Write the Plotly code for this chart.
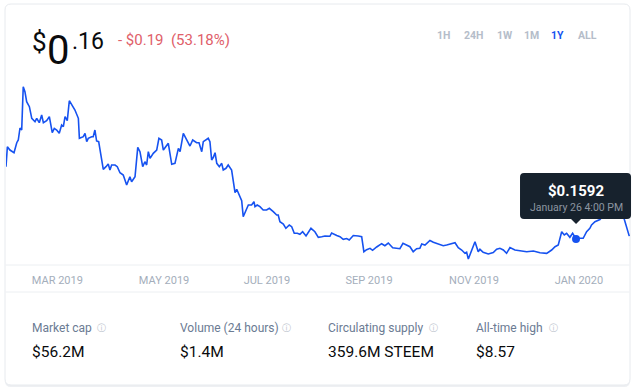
import pandas as pd
import plotly.graph_objects as go

# ---------------- data ----------------
START = pd.Timestamp("2019-02-26 16:00")

day_offset = [
    0, 0.8, 2.3, 4.7, 6.3, 7.2, 8.2, 9.2, 10.1, 11.1,
    12.1, 13.7, 15.1, 17.0, 18.0, 19.5, 20.9, 21.9, 23.8, 25.4,
    27.1, 28.3, 29.7, 31.2, 32.6, 33.6, 34.6, 35.9, 37.1, 39.1,
    40.4, 42.4, 43.0, 45.3, 46.3, 47.3, 48.2, 50.2, 51.1, 52.1,
    53.1, 54.3, 57.0, 58.6, 59.9, 60.9, 61.9, 63.9, 65.2, 66.8,
    68.7, 70.7, 72.6, 73.6, 75.6, 77.2, 78.5, 80.1, 81.4, 82.4,
    83.4, 84.4, 86.3, 88.3, 89.6, 91.2, 92.2, 93.6, 95.1, 97.1,
    99.0, 101.0, 102.0, 103.9, 105.9, 107.8, 109.4, 111.7, 113.1, 114.7,
    115.6, 117.6, 118.5, 119.5, 120.5, 121.5, 122.5, 123.5, 125.0, 126.4,
    127.3, 128.9, 130.2, 132.2, 134.2, 135.2, 136.7, 138.1, 139.0, 140.6,
    142.0, 143.9, 145.3, 145.9, 147.2, 148.8, 150.7, 152.7, 154.3, 156.6,
    158.6, 159.5, 160.5, 162.5, 164.0, 166.0, 167.4, 168.9, 170.7, 172.2,
    173.8, 175.8, 178.7, 181.0, 183.0, 185.0, 186.9, 189.8, 190.8, 193.8,
    195.7, 197.6, 199.6, 201.1, 203.5, 206.4, 208.4, 209.7, 211.3, 213.3,
    214.8, 217.2, 220.1, 222.0, 224.0, 226.6, 229.8, 230.8, 232.6, 234.8,
    236.7, 238.6, 240.6, 242.5, 243.6, 245.5, 248.4, 250.4, 253.3, 256.2,
    258.2, 261.1, 263.1, 265.0, 267.0, 268.9, 269.9, 270.9, 272.8, 274.8,
    276.7, 277.7, 279.6, 282.6, 285.5, 287.5, 289.4, 291.4, 293.3, 295.3,
    298.2, 301.1, 305.1, 309.0, 312.9, 316.8, 319.7, 321.7, 323.6, 325.6,
    327.1, 328.5, 330.4, 332.0, 334.0, 336.3, 338.2, 340.2, 342.1, 343.1,
    345.1, 348.0, 350.9, 353.9, 356.2, 358.6, 360.9, 362.1, 363.6, 365.2,
]

price_usd = [
    0.3571, 0.4118, 0.4027, 0.3954, 0.4227, 0.4301, 0.4630, 0.4575, 0.5760, 0.5623,
    0.5349, 0.5213, 0.4895, 0.4802, 0.4895, 0.4775, 0.4985, 0.4775, 0.4829, 0.4939,
    0.4501, 0.4621, 0.4575, 0.4485, 0.4712, 0.4665, 0.4939, 0.4829, 0.5377, 0.5232,
    0.5122, 0.4895, 0.4348, 0.4392, 0.4485, 0.4255, 0.4348, 0.4392, 0.4392, 0.4575,
    0.4274, 0.4255, 0.3499, 0.3571, 0.3644, 0.3480, 0.3617, 0.3617, 0.3571, 0.3406,
    0.3343, 0.3070, 0.3297, 0.3160, 0.3297, 0.4101, 0.3981, 0.3571, 0.3707, 0.3617,
    0.3981, 0.3800, 0.3937, 0.4027, 0.4348, 0.4301, 0.4027, 0.4118, 0.4211, 0.3636,
    0.3663, 0.4074, 0.3981, 0.4485, 0.4301, 0.4137, 0.4301, 0.4227, 0.4227, 0.3981,
    0.4255, 0.4320, 0.4348, 0.4255, 0.3754, 0.3828, 0.3954, 0.3663, 0.3571, 0.3663,
    0.3480, 0.3527, 0.3617, 0.3480, 0.2859, 0.2952, 0.2796, 0.2640, 0.2202, 0.2405,
    0.2522, 0.2522, 0.2612, 0.2476, 0.2522, 0.2476, 0.2385, 0.2385, 0.2432, 0.2339,
    0.2248, 0.2248, 0.2065, 0.2002, 0.1884, 0.1975, 0.1928, 0.1747, 0.1747, 0.1720,
    0.1791, 0.1674, 0.1884, 0.1791, 0.1638, 0.1655, 0.1674, 0.1666, 0.1756, 0.1687,
    0.1655, 0.1583, 0.1605, 0.1564, 0.1687, 0.1674, 0.1655, 0.1244, 0.1299, 0.1337,
    0.1282, 0.1373, 0.1463, 0.1408, 0.1482, 0.1353, 0.1345, 0.1326, 0.1474, 0.1414,
    0.1381, 0.1244, 0.1326, 0.1337, 0.1455, 0.1427, 0.1551, 0.1501, 0.1455, 0.1408,
    0.1427, 0.1474, 0.1490, 0.1353, 0.1290, 0.1200, 0.1228, 0.1044, 0.1290, 0.1518,
    0.1244, 0.1310, 0.1228, 0.1181, 0.1222, 0.1310, 0.1337, 0.1290, 0.1200, 0.1359,
    0.1290, 0.1263, 0.1244, 0.1263, 0.1217, 0.1200, 0.1290, 0.1381, 0.1427, 0.1791,
    0.1701, 0.1748, 0.1638, 0.1748, 0.1592, 0.1611, 0.1611, 0.1791, 0.1884, 0.1975,
    0.2065, 0.2125, 0.2303, 0.2413, 0.2303, 0.2467, 0.2331, 0.2158, 0.1928, 0.1670,
]

HOVER_INDEX = 194
hover_date_text = "January 26 4:00 PM"

tick_offset = [30.1, 92.6, 152.9, 212.7, 274.2, 335.7]
tick_labels = ["MAR 2019", "MAY 2019", "JUL 2019", "SEP 2019", "NOV 2019", "JAN 2020"]

range_buttons = ["1H", "24H", "1W", "1M", "1Y", "ALL"]
active_range = "1Y"

price_whole = "0"
price_frac = ".16"
change_text = "- $0.19  (53.18%)"

stat_labels = ["Market cap", "Volume (24 hours)", "Circulating supply", "All-time high"]
stat_values = ["$56.2M", "$1.4M", "359.6M STEEM", "$8.57"]

# ---------------- styling / layout helpers ----------------
BLUE = "#1652f0"
INK = "#0a0b0d"
FONT = "Roboto, Inter, sans-serif"

W, H = 640, 392
L, R, T, B = 6, 632, 80, 262
Y_MIN, Y_MAX = 0.0962, 0.5944
X_SPAN_DAYS = 366.8


def PX(X):
    return (X - L) / (R - L)


def PY(Y):
    return (B - Y) / (B - T)


def rounded(x0, y0, x1, y1, r, ax, ay, pointer_x=None):
    def p(x, y):
        return f"{x - ax:.1f},{ay - y:.1f}"
    d = (f"M{p(x0 + r, y0)} L{p(x1 - r, y0)} Q{p(x1, y0)} {p(x1, y0 + r)} "
         f"L{p(x1, y1 - r)} Q{p(x1, y1)} {p(x1 - r, y1)} ")
    if pointer_x is not None:
        d += f"L{p(pointer_x + 5, y1)} L{p(pointer_x, y1 + 5)} L{p(pointer_x - 5, y1)} "
    d += (f"L{p(x0 + r, y1)} Q{p(x0, y1)} {p(x0, y1 - r)} "
          f"L{p(x0, y0 + r)} Q{p(x0, y0)} {p(x0 + r, y0)} Z")
    return d


dates = START + pd.to_timedelta(day_offset, unit="D")
tick_dates = START + pd.to_timedelta(tick_offset, unit="D")
hover_x = dates[HOVER_INDEX]
hover_y = price_usd[HOVER_INDEX]
hover_x_str = hover_x.strftime("%Y-%m-%d %H:%M:%S")

fig = go.Figure()
fig.add_trace(go.Scatter(
    x=dates, y=price_usd, mode="lines",
    line=dict(color=BLUE, width=1.6), hoverinfo="skip", showlegend=False,
))
fig.add_trace(go.Scatter(
    x=[hover_x], y=[hover_y], mode="markers",
    marker=dict(color=BLUE, size=8), hoverinfo="skip", showlegend=False,
))

shapes = []
# card shadow + card
shapes.append(dict(type="path", xref="paper", yref="paper", xsizemode="pixel",
                   ysizemode="pixel", xanchor=0, yanchor=0,
                   path=rounded(5, 5, 630, 387, 6, L, B),
                   line=dict(width=0), fillcolor="#eef0f3", layer="below"))
shapes.append(dict(type="path", xref="paper", yref="paper", xsizemode="pixel",
                   ysizemode="pixel", xanchor=0, yanchor=0,
                   path=rounded(5, 4, 630, 385, 6, L, B),
                   line=dict(color="#e7eaee", width=1), fillcolor="white", layer="below"))
for yy in (265, 292):
    shapes.append(dict(type="line", xref="paper", yref="paper",
                       x0=PX(5.5), x1=PX(629.5), y0=PY(yy), y1=PY(yy),
                       line=dict(color="#eceff2", width=1), layer="below"))
# tooltip
shapes.append(dict(type="path", xref="x", yref="y", xsizemode="pixel", ysizemode="pixel",
                   xanchor=hover_x_str, yanchor=hover_y,
                   path=rounded(520, 173, 631, 219, 4, 576, 239, pointer_x=576),
                   line=dict(width=0), fillcolor="#17222d", layer="above"))

ann = []
# header price
ann.append(dict(text="$", x=PX(30), y=PY(42), font=dict(size=26, color=INK)))
ann.append(dict(text=price_whole, x=PX(45), y=PY(51), font=dict(size=40, color=INK)))
ann.append(dict(text=price_frac, x=PX(70), y=PY(41), font=dict(size=23, color=INK)))
ann.append(dict(text=change_text, x=PX(116), y=PY(40), font=dict(size=15, color="#e0606a")))

btn_x = [443, 473, 505, 531.5, 557.5, 587]
for lbl, bx in zip(range_buttons, btn_x):
    ann.append(dict(text=f"<b>{lbl}</b>", x=PX(bx), y=PY(36), xanchor="center",
                    font=dict(size=10.5, color=BLUE if lbl == active_range else "#b5bdc9")))

icon_x = [101, 286, 433.5, 553]
for i, (lab, val) in enumerate(zip(stat_labels, stat_values)):
    x0 = 30 + 148 * i
    ann.append(dict(text=lab, x=PX(x0), y=PY(328), font=dict(size=12, color="#6b7b93")))
    ann.append(dict(text="ⓘ", x=PX(icon_x[i]), y=PY(328), xanchor="center",
                    font=dict(size=9, color="#b8c0ca", family="DejaVu Sans")))
    ann.append(dict(text=val, x=PX(x0), y=PY(352), font=dict(size=15.5, color=INK)))

for a in ann:
    a.setdefault("xref", "paper")
    a.setdefault("yref", "paper")
    a.setdefault("xanchor", "left")
    a.setdefault("yanchor", "middle")
    a.setdefault("showarrow", False)

# tooltip text
ann.append(dict(text=f"<b>${hover_y:.4f}</b>", x=hover_x_str, y=hover_y, xref="x", yref="y",
                showarrow=False, yshift=48, xanchor="center", yanchor="middle",
                font=dict(size=15, color="white")))
ann.append(dict(text=hover_date_text, x=hover_x_str, y=hover_y, xref="x", yref="y",
                showarrow=False, yshift=31, xanchor="center", yanchor="middle",
                font=dict(size=10.5, color="#8d96a1")))

fig.update_layout(
    width=W, height=H, autosize=False,
    margin=dict(l=L, r=W - R, t=T, b=H - B, pad=0),
    paper_bgcolor="white", plot_bgcolor="rgba(0,0,0,0)",
    font=dict(family=FONT, color=INK),
    showlegend=False, hovermode=False,
    shapes=shapes, annotations=ann,
    xaxis=dict(
        type="date", range=[START, START + pd.Timedelta(days=X_SPAN_DAYS)],
        tickvals=tick_dates, ticktext=tick_labels,
        tickfont=dict(size=11, color="#a4aebb"),
        ticks="outside", ticklen=8, tickcolor="rgba(0,0,0,0)",
        showgrid=False, zeroline=False, showline=False, fixedrange=True,
    ),
    yaxis=dict(range=[Y_MIN, Y_MAX], visible=False, fixedrange=True),
)

fig.write_html(
    "out.html",
    config={"displayModeBar": False},
    post_script="document.body.style.margin='0';document.body.style.overflow='hidden';",
)
